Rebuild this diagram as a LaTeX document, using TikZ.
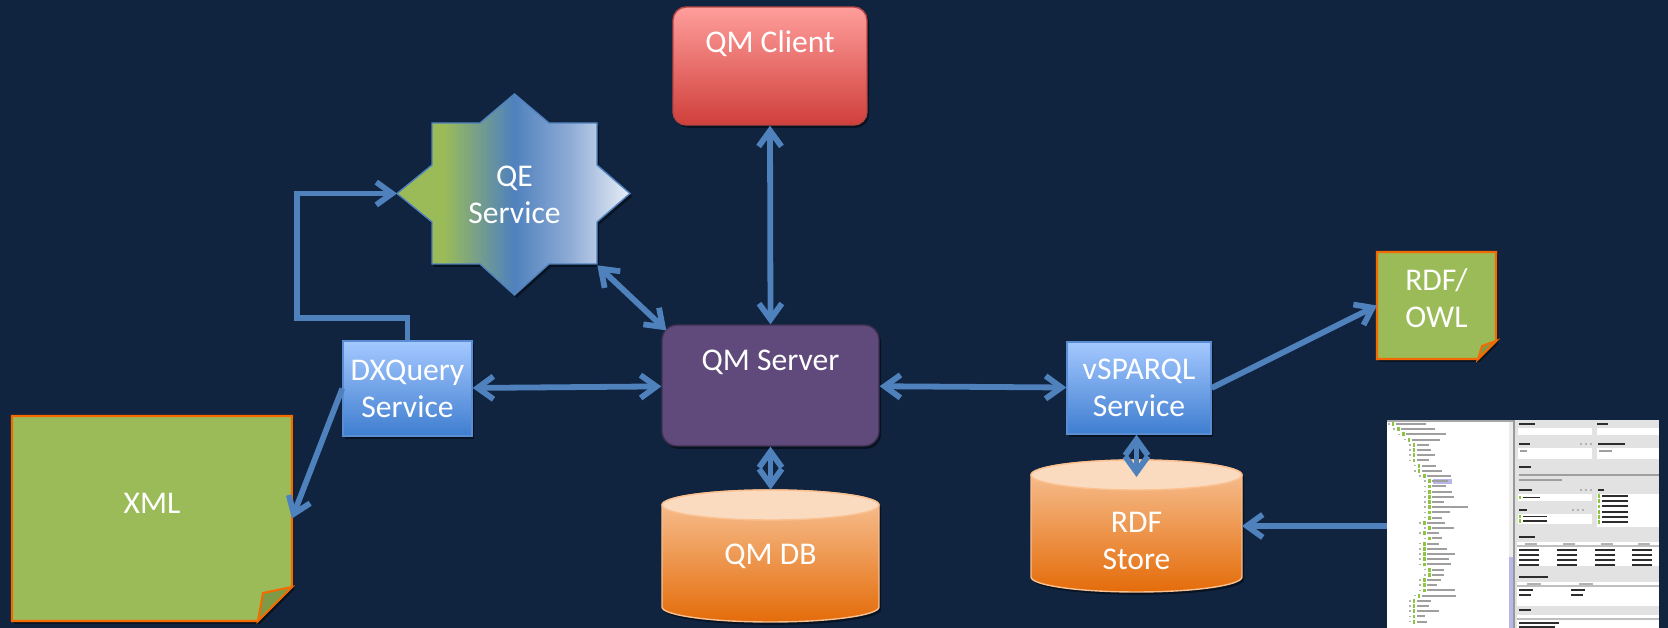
\documentclass[tikz,border=0pt]{standalone}
\usepackage{fontspec}
\setmainfont{Carlito}
\usetikzlibrary{arrows.meta,calc,shadows}

\definecolor{bgc}{HTML}{10233F}
\definecolor{arrc}{HTML}{4F81BD}
\definecolor{clienttop}{HTML}{FF9E9B}
\definecolor{clientbot}{HTML}{D03F3B}
\definecolor{clientborder}{HTML}{B94643}
\definecolor{srvfill}{HTML}{604A7B}
\definecolor{srvborder}{HTML}{3F3151}
\definecolor{boxtop}{HTML}{A4C8FF}
\definecolor{boxbot}{HTML}{3F7ED0}
\definecolor{boxborder}{HTML}{5B8DD3}
\definecolor{notefill}{HTML}{9BBB59}
\definecolor{noteborder}{HTML}{F36B00}
\definecolor{foldfill}{HTML}{7E9A47}
\definecolor{cyltop}{HTML}{F8C59A}
\definecolor{cylbot}{HTML}{E46C0A}
\definecolor{cylface}{HTML}{FBDBC0}
\definecolor{cylborder}{HTML}{FAC08F}
\definecolor{qgreen}{HTML}{9BBB59}
\definecolor{qblue}{HTML}{4F81BD}
\definecolor{qmid}{HTML}{8EABD6}
\definecolor{qlight}{HTML}{E8EEF7}
\definecolor{qeborder}{HTML}{4F81BD}
\definecolor{treegreen}{HTML}{8CC63F}
\definecolor{lav}{HTML}{B8B8E8}
\definecolor{panelgray}{HTML}{E2E2E2}

% gradient of the query-engine star: green -> blue -> pale
\pgfdeclarehorizontalshading{qeshade}{100bp}{color(0bp)=(qgreen); color(35bp)=(qgreen); color(50bp)=(qblue); color(62bp)=(qmid); color(75bp)=(qlight); color(100bp)=(qlight)}

\begin{document}
\begin{tikzpicture}[x=0.02cm, y=-0.02cm,
  font=\fontsize{18pt}{21pt}\selectfont,
  lbl/.style={text=white, align=center, inner sep=0},
  shadowed/.style={drop shadow={shadow xshift=1.2pt, shadow yshift=-1.6pt, opacity=0.45, fill=black}},
  svcbox/.style={draw=boxborder, line width=0.8pt, top color=boxtop, bottom color=boxbot,
    text=white, align=center, inner sep=0, shadowed},
  hole/.style={inner sep=0, outer sep=0},
  link/.style={draw=arrc, line width=3.3pt},
  both/.style={link, {Straight Barb[length=9pt,width=13pt]}-{Straight Barb[length=9pt,width=13pt]}},
  one/.style={link, -{Straight Barb[length=9pt,width=13pt]}},
  note/.style={fill=notefill, draw=noteborder, line width=1.2pt, line join=miter, shadowed},
  fold/.style={fill=foldfill, draw=noteborder, line width=1.2pt},
  cylbody/.style={draw=cylborder, line width=0.8pt, top color=cyltop, bottom color=cylbot, shadowed},
  cyltopface/.style={fill=cylface, draw=cylborder, line width=0.8pt},
  treetext/.style={draw=gray!75, line width=1.1pt},
  bodytext/.style={draw=gray!35!black, line width=1.1pt}
]
\useasboundingbox (0,0) rectangle (1668,628);
\fill[bgc] (0,0) rectangle (1668,628);

% ---------- QM Client ----------
\node[draw=clientborder, line width=0.8pt, top color=clienttop, bottom color=clientbot,
  rounded corners=7.5pt, minimum width=3.88cm, minimum height=2.36cm, shadowed] (client) at (770,66) {};
\node[lbl] (clienttxt) at (770,44) {QM Client};

% ---------- QM Server ----------
\node[draw=srvborder, line width=0.8pt, fill=srvfill, rounded corners=8.5pt,
  minimum width=4.34cm, minimum height=2.42cm, shadowed] (server) at (770.5,385.5) {};
\node[lbl] (servertxt) at (770.5,362) {QM Server};

% ---------- QE Service star ----------
\shadedraw[shading=qeshade, draw=qeborder, line width=0.8pt, line join=miter, shadowed]
  (432,123) -- (480,123) -- (514.5,94) -- (549,123) -- (597,123) -- (597,165) -- (630,193.5)
  -- (597,222) -- (597,264) -- (549,264) -- (514.5,295) -- (480,264) -- (432,264) -- (432,222)
  -- (397,193.5) -- (432,165) -- cycle;
\node[lbl, minimum width=3.30cm, minimum height=2.82cm] (qe) at (514.5,194.5) {QE\\Service};
\coordinate (qetip) at (397,193.5);

% ---------- service boxes ----------
\node[svcbox, minimum width=2.58cm, minimum height=1.90cm] (dx) at (407.5,388.5) {DXQuery\\Service};
\node[svcbox, minimum width=2.88cm, minimum height=1.84cm] (vs) at (1139,388) {vSPARQL\\Service};

% ---------- QM DB cylinder ----------
\shadedraw[cylbody] (662,505) -- (662,607)
  arc[start angle=180, end angle=360, x radius=2.17cm, y radius=0.3cm] -- (879,505)
  arc[start angle=0, end angle=180, x radius=2.17cm, y radius=0.3cm] -- cycle;
\filldraw[cyltopface] (770.5,505) ellipse[x radius=2.17cm, y radius=0.3cm];
\node[lbl, minimum width=4.34cm, minimum height=2.64cm] (qmdb) at (770.5,556) {QM DB};

% ---------- RDF Store cylinder ----------
\shadedraw[cylbody] (1031,475) -- (1031,577)
  arc[start angle=180, end angle=360, x radius=2.11cm, y radius=0.3cm] -- (1242,475)
  arc[start angle=0, end angle=180, x radius=2.11cm, y radius=0.3cm] -- cycle;
\filldraw[cyltopface] (1136.5,475) ellipse[x radius=2.11cm, y radius=0.3cm];
\node[hole, minimum width=4.22cm, minimum height=2.64cm] (rdfs) at (1136.5,526) {};
\node[lbl] (rdfstxt) at (1136.5,541) {RDF\\Store};
\coordinate (rdftop) at (1136.5,477);

% ---------- RDF/OWL note ----------
\filldraw[note] (1377,252) -- (1496,252) -- (1496,341) -- (1478,359) -- (1377,359) -- cycle;
\filldraw[fold] (1478,359) -- (1482,346) -- (1496,341) -- cycle;
\node[hole, minimum width=2.38cm, minimum height=2.14cm] (rdfowl) at (1436.5,305.5) {};
\node[lbl] (rdfowltxt) at (1436.5,298) {RDF/\\OWL};

% ---------- XML note ----------
\filldraw[note] (12,416) -- (292,416) -- (292,587) -- (258,621) -- (12,621) -- cycle;
\filldraw[fold] (258,621) -- (263,593) -- (292,587) -- cycle;
\node[hole, minimum width=5.60cm, minimum height=4.10cm] (xml) at (152,518.5) {};
\node[lbl] (xmltxt) at (152,503) {XML};

% ---------- ontology editor window ----------
\node[hole, minimum width=5.44cm, minimum height=4.16cm] (shot) at (1523,524) {};
\fill[white] (1387,420) rectangle (1659,628);
% tree pane
\fill[gray!15] (1509,421) rectangle (1513,628);
\fill[lav] (1509,557) rectangle (1513,628);
\draw[gray!70, line width=0.6pt] (1387,421) -- (1513,421);
\fill[lav] (1433,479.4) rectangle (1452,483.8);
\foreach \i/\l/\n in {0/0/30, 1/1/34, 2/2/40, 3/3/28, 4/4/12, 5/4/14, 6/4/18, 7/4/12,
  8/5/14, 9/5/20, 10/6/24, 11/7/16, 12/7/14, 13/7/20, 14/7/22, 15/7/12, 16/7/36, 17/7/18,
  18/7/10, 19/6/18, 20/7/22, 21/6/12, 22/7/10, 23/6/12, 24/6/20, 25/6/28, 26/6/22, 27/6/24,
  28/7/12, 29/7/12, 30/6/14, 31/6/10, 32/6/28, 33/5/34, 34/4/14, 35/4/12, 36/4/22, 37/4/8, 38/4/10}{
  \pgfmathsetmacro\yy{424+5.2*\i}
  \pgfmathsetmacro\xx{1392+5.2*\l}
  \fill[gray!60] (\xx-4,\yy-0.8) rectangle ++(2,1.6);
  \fill[treegreen] (\xx,\yy-1.9) rectangle ++(2.4,3.8);
  \draw[treetext] (\xx+4,\yy) -- ++(\n,0);
}
% detail pane
\fill[panelgray] (1514,420) rectangle (1659,628);
\draw[gray!80, line width=0.6pt] (1514,420) -- (1514,628);
\foreach \a/\b/\c in {1519/1535/424, 1597/1608/424, 1519/1530/444, 1598/1625/444,
  1519/1531/467, 1519/1532/490, 1598/1604/490, 1519/1527/510, 1519/1535/537,
  1519/1548/577, 1519/1531/610}{
  \draw[bodytext] (\a,\c) -- (\b,\c);
}
\fill[white] (1518,428) rectangle (1592,435);
\fill[white] (1597,428) rectangle (1659,435);
\fill[white] (1518,448) rectangle (1592,459);
\fill[white] (1597,448) rectangle (1659,459);
\draw[treetext] (1520,451) -- (1527,451) (1599,451) -- (1612,451);
\draw[treetext] (1519,475) -- (1659,475) (1519,480) -- (1562,480);
\fill[white] (1518,494) rectangle (1592,501);
\fill[treegreen] (1519,495.5) rectangle ++(2.4,3.8);
\draw[bodytext] (1523,497.5) -- (1540,497.5);
\fill[white] (1597,494) rectangle (1659,527);
\foreach \k in {0,...,5}{
  \fill[treegreen] (1598,496+5.2*\k-1.9) rectangle ++(2.4,3.8);
  \draw[bodytext] (1602,496+5.2*\k) -- ++(26,0);
}
\fill[white] (1518,514) rectangle (1592,524);
\foreach \k in {0,1}{
  \fill[treegreen] (1519,516.5+4.5*\k-1.7) rectangle ++(2.4,3.4);
  \draw[bodytext] (1523,516.5+4.5*\k) -- ++(24,0);
}
\foreach \a in {1580,1585,1590}{
  \fill[gray!60] (\a,443) rectangle ++(2,2);
  \fill[gray!60] (\a,489) rectangle ++(2,2);
  \fill[gray!60] (\a-8,509) rectangle ++(2,2);
}
% property tables
\fill[white] (1517,542) rectangle (1659,566);
\draw[gray!50, line width=0.6pt] (1517,546) -- (1659,546);
\foreach \x in {1519,1557,1595,1632}{
  \draw[gray!60, line width=0.6pt] (\x+6,544) -- ++(12,0);
  \foreach \r in {550,555,560,565}{
    \draw[bodytext] (\x,\r) -- ++(20,0);
  }
}
\fill[white] (1517,582) rectangle (1659,606);
\draw[gray!50, line width=0.6pt] (1517,586) -- (1659,586);
\foreach \x in {1519,1571}{
  \draw[gray!60, line width=0.6pt] (\x+8,584) -- ++(14,0);
  \draw[bodytext] (\x,590) -- ++(14,0) (\x,595) -- ++(12,0);
}
\fill[white] (1517,615) rectangle (1659,628);
\draw[gray!50, line width=0.6pt] (1517,619) -- (1659,619);
\draw[bodytext] (1519,623) -- ++(40,0) (1519,627) -- ++(36,0);

% ---------- connectors ----------
\draw[both] (client.south) -- (server.north);
\draw[both] (qe.south east) -- ($(server.north west)+(5,6)$);
\draw[both] (dx) -- (server);
\draw[both] (server) -- (vs);
\draw[both] (server.south) -- (qmdb.north);
\draw[both] (vs.south -| rdftop) -- (rdftop);
\coordinate (bend) at (297,318);
\draw[one] (dx.north) |- (bend) |- (qetip);
\draw[one] (dx.west) -- (xml.east);
\draw[one] (vs.east) -- (rdfowl.west);
\draw[one] (shot.west |- rdfs.east) -- (rdfs.east);
\end{tikzpicture}
\end{document}
